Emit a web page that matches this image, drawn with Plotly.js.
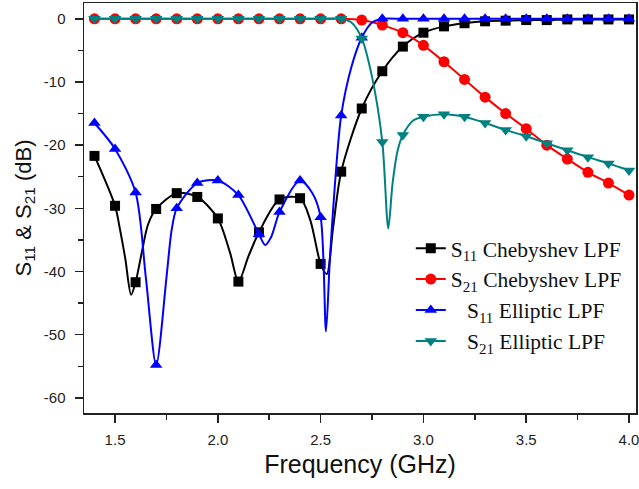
<!DOCTYPE html>
<html>
<head>
<meta charset="utf-8">
<script src="https://cdn.plot.ly/plotly-3.0.1.min.js"></script>
<style>html,body{margin:0;padding:0;background:#fff;}#chart{width:639px;height:489px;}</style>
</head>
<body>
<div id="chart"></div>
<script>
// ---- data ----
const freq = [1.4,1.5,1.6,1.7,1.8,1.9,2.0,2.1,2.2,2.3,2.4,2.5,2.6,2.7,2.8,2.9,3.0,3.1,3.2,3.3,3.4,3.5,3.6,3.7,3.8,3.9,4.0];

const s11Cheb = [-21.7,-29.6,-41.7,-30.1,-27.6,-28.2,-31.6,-41.6,-33.8,-28.6,-28.4,-38.8,-24.2,-14.2,-8.3,-4.4,-2.2,-1.2,-0.7,-0.4,-0.3,-0.2,-0.2,-0.1,-0.1,-0.1,-0.1];
const s11ChebExtraF = [1.525,1.55,1.578,1.63,1.66,2.06,2.15,2.45,2.53,2.56];
const s11ChebExtraV = [-33.5,-38.0,-43.7,-37.0,-32.6,-37.1,-37.5,-31.9,-40.4,-33.2];

const s21Cheb = [0,0,0,0,0,0,0,0,0,0,0,0,0,-0.2,-1.0,-2.2,-4.2,-6.8,-9.6,-12.4,-15.0,-17.4,-20.0,-22.2,-24.3,-26.0,-27.9];
const s21ChebExtraF = [];
const s21ChebExtraV = [];

const s11Ell = [-16.5,-20.6,-27.5,-54.8,-30.0,-26.0,-25.6,-27.9,-34.1,-30.6,-25.6,-31.4,-15.3,-3.0,0,0,0,0,0,0,0,0,0,0,0,0,0];
const s11EllExtraF = [1.65,1.75,1.775,2.23,2.26,2.46,2.526,2.545,2.57,2.65,2.75];
const s11EllExtraV = [-41.0,-41.0,-33.5,-35.8,-34.5,-27.6,-49.5,-38.0,-26.0,-7.6,-0.6];

const s21Ell = [0,0,0,0,0,0,0,0,0,0,0,0,0,-3.1,-19.5,-18.4,-15.5,-15.1,-15.5,-16.5,-17.6,-18.6,-19.7,-20.8,-21.9,-22.9,-24.0];
const s21EllExtraF = [2.65,2.75,2.829,2.85,2.875,2.95];
const s21EllExtraV = [-0.6,-9.2,-33.2,-26.0,-20.8,-16.1];

const seriesNames = ['S<sub>11</sub> Chebyshev LPF','S<sub>21</sub> Chebyshev LPF','\u00A0\u00A0\u00A0S<sub>11</sub> Elliptic LPF','\u00A0\u00A0\u00A0S<sub>21</sub> Elliptic LPF'];
const xTickVals = [1.5,2.0,2.5,3.0,3.5,4.0];
const xTickText = ['1.5','2.0','2.5','3.0','3.5','4.0'];
const yTickVals = [0,-10,-20,-30,-40,-50,-60];
const yTickText = ['0','-10','-20','-30','-40','-50','-60'];

// ---- build traces ----
function mergeLine(mf, mv, ef, ev){
  const pts = mf.map((f,i)=>[f,mv[i]]).concat(ef.map((f,i)=>[f,ev[i]]));
  pts.sort((a,b)=>a[0]-b[0]);
  return {x:pts.map(p=>p[0]), y:pts.map(p=>p[1])};
}
const styles = [
  {color:'#000000', symbol:'square', size:10},
  {color:'#ff0000', symbol:'circle', size:11},
  {color:'#0000ff', symbol:'triangle-up', size:11},
  {color:'#008080', symbol:'triangle-down', size:11}
];
const seriesVals = [s11Cheb, s21Cheb, s11Ell, s21Ell];
const extrasF = [s11ChebExtraF, s21ChebExtraF, s11EllExtraF, s21EllExtraF];
const extrasV = [s11ChebExtraV, s21ChebExtraV, s11EllExtraV, s21EllExtraV];

const traces = [];
const legendTraces = [];
seriesVals.forEach((vals, k)=>{
  const st = styles[k];
  const ln = mergeLine(freq, vals, extrasF[k], extrasV[k]);
  traces.push({x:ln.x, y:ln.y, mode:'lines', type:'scatter', showlegend:false, hoverinfo:'skip',
    line:{color:st.color, width:2, shape:'spline', smoothing:0.8}});
  traces.push({x:freq, y:vals, mode:'markers', type:'scatter', showlegend:false,
    marker:{color:st.color, symbol:st.symbol, size:st.size, line:{width:0}}});
  legendTraces.push({x:[null], y:[null], mode:'lines+markers', type:'scatter', name:seriesNames[k],
    line:{color:st.color, width:2}, marker:{color:st.color, symbol:st.symbol, size:st.size}});
});

const axisFont = {family:'Liberation Sans, Arial, sans-serif', size:15, color:'#222'};
const layout = {
  width:639, height:489,
  margin:{l:84, r:3, t:3, b:76},
  paper_bgcolor:'#ffffff', plot_bgcolor:'#ffffff',
  showlegend:true,
  xaxis:{
    range:[1.349, 4.034], tickmode:'array', tickvals:xTickVals, ticktext:xTickText,
    ticks:'outside', ticklen:8, tickwidth:1.5, tickcolor:'#222', ticklabeloverflow:'allow',
    minor:{dtick:0.25, tick0:1.5, ticks:'outside', ticklen:5, tickwidth:1.5, tickcolor:'#222'},
    showline:true, linecolor:'#222', linewidth:1.5, mirror:true,
    showgrid:false, zeroline:false, tickfont:axisFont, ticklabelstandoff:4,
    title:{text:'Frequency (GHz)', font:{family:'Liberation Sans, Arial, sans-serif', size:25, color:'#111'}, standoff:9}
  },
  yaxis:{
    range:[-62.4, 2.5], tickmode:'array', tickvals:yTickVals, ticktext:yTickText,
    ticks:'outside', ticklen:8, tickwidth:1.5, tickcolor:'#222',
    minor:{dtick:5, tick0:0, ticks:'outside', ticklen:5, tickwidth:1.5, tickcolor:'#222'},
    showline:true, linecolor:'#222', linewidth:1.5, mirror:true,
    showgrid:false, zeroline:false, tickfont:axisFont, ticklabelstandoff:6,
    title:{text:'S<sub>11</sub> & S<sub>21</sub> (dB)', font:{family:'Liberation Sans, Arial, sans-serif', size:22, color:'#111'}, standoff:6}
  },
  legend:{
    x:0.592, y:0.452, xanchor:'left', yanchor:'top',
    bgcolor:'rgba(255,255,255,0)', borderwidth:0,
    font:{family:'Liberation Serif, Times New Roman, serif', size:21.5, color:'#111'}
  }
};

Plotly.newPlot('chart', traces.concat(legendTraces), layout, {staticPlot:true, displayModeBar:false});
</script>
</body>
</html>
